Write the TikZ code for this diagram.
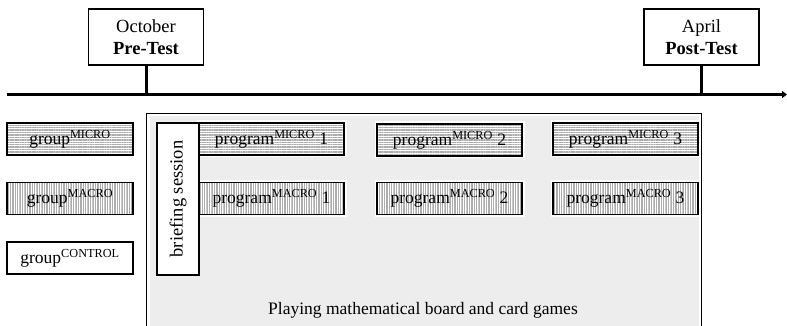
\documentclass[tikz,border=0pt]{standalone}
\usepackage{fontspec}
\setmainfont{Liberation Serif}
\usetikzlibrary{patterns.meta,arrows.meta}
\tikzset{
  testbox/.style={draw, line width=1.1pt, fill=white, minimum width=115pt, minimum height=56pt,
    font=\fontsize{18.5}{22}\selectfont, align=center, inner sep=0pt},
  boxbase/.style={draw, line width=1.4pt, inner sep=0pt, minimum height=32pt,
    font=\fontsize{17.5}{21}\selectfont},
  microbox/.style={boxbase, preaction={fill=white},
    pattern={Lines[distance=1.7pt,angle=0,line width=0.4pt]}, pattern color=black!32},
  macrobox/.style={boxbase, preaction={fill=white},
    pattern={Lines[distance=1.7pt,angle=90,line width=0.4pt]}, pattern color=black!32},
  halo/.style={preaction={draw=white, line width=5pt}},
  plainbox/.style={boxbase, fill=white},
  timeline/.style={line width=3pt},
}
\begin{document}
\begin{tikzpicture}[x=1pt,y=-1pt]
\useasboundingbox (0,0) rectangle (787,326);
% timeline
\coordinate (tlstart) at (7,94.5);
\coordinate (tlend) at (787,94.5);
\draw[timeline, -{Triangle[length=5pt,width=7pt]}] (tlstart) -- (tlend);
\node[testbox] (pre) at (146,37) {October\\\textbf{Pre-Test}};
\node[testbox] (post) at (701.5,37) {April\\\textbf{Post-Test}};
\draw[timeline] (pre.south) -- (pre.south |- tlstart);
\draw[timeline] (post.south) -- (post.south |- tlstart);
% panel
\node[draw, line width=1pt, fill=white, anchor=north west, minimum width=555pt, minimum height=240pt, inner sep=0pt] (panel) at (146,113) {};
\fill[black!7] ([shift={(3.5pt,-3.5pt)}]panel.north west) rectangle ([shift={(-3.5pt,3.5pt)}]panel.south east);
\node[font=\fontsize{17.5}{21}\selectfont, inner sep=0pt] (paneltext) at (423,310) {Playing mathematical board and card games};
% groups
\node[microbox, minimum width=126pt] (gmicro) at (70,139) {group\textsuperscript{MICRO}};
\node[macrobox, minimum width=126pt] (gmacro) at (70,198.5) {group\textsuperscript{MACRO}};
\node[plainbox, minimum width=126pt] (gcontrol) at (70,258) {group\textsuperscript{CONTROL}};
% programs
\node[microbox, halo, minimum width=145pt] (pmicro1) at (271.5,139) {program\textsuperscript{MICRO} 1};
\node[macrobox, halo, minimum width=145pt] (pmacro1) at (271.5,198.5) {program\textsuperscript{MACRO} 1};
\node[microbox, halo, minimum width=145pt] (pmicro2) at (449.5,140) {program\textsuperscript{MICRO} 2};
\node[macrobox, halo, minimum width=145pt] (pmacro2) at (449.5,198.5) {program\textsuperscript{MACRO} 2};
\node[microbox, halo, minimum width=145pt] (pmicro3) at (625.5,139) {program\textsuperscript{MICRO} 3};
\node[macrobox, halo, minimum width=145pt] (pmacro3) at (625.5,198.5) {program\textsuperscript{MACRO} 3};
% briefing
\node[draw, line width=1.4pt, fill=white, rotate=90, minimum width=152pt, minimum height=42pt, inner sep=0pt,
  font=\fontsize{18.5}{21}\selectfont] (brief) at (178,199) {briefing session};
\end{tikzpicture}
\end{document}
